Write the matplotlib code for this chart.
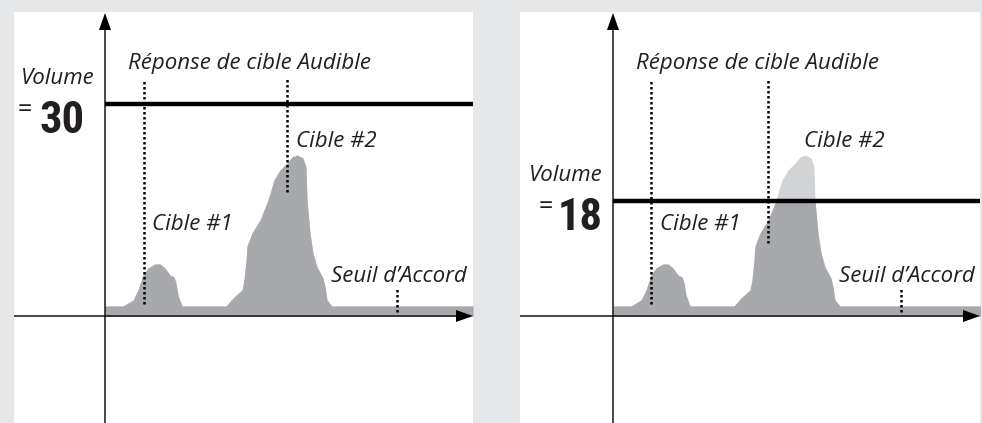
import matplotlib
matplotlib.use("Agg")
import matplotlib.pyplot as plt
import numpy as np

# signal profile (x from the vertical axis, y above the horizontal axis)
signal_x = [0, 18, 28, 33, 38, 43, 50, 55, 60, 65, 69, 71, 73, 77,
            121, 128, 137, 139, 141, 142, 147, 155, 163, 169, 175, 182,
            187, 192, 198, 201, 202, 205, 208, 212, 218, 220, 222, 227, 368]
signal_y = [10, 10, 16, 26, 41, 48, 52, 52, 48, 41, 39, 33, 21, 10,
            10, 18, 26, 36, 56, 70, 83, 96, 116, 136, 146, 153,
            159, 161, 158, 149, 116, 83, 63, 49, 38, 29, 16, 10, 10]

volume_levels = [212, 115]
volume_labels = ["30", "18"]

# dotted response markers per panel: x, top, bottom
marker_x = [[39, 182, 292], [38, 155, 288]]
marker_top = [[237, 237, 28], [237, 237, 28]]
marker_bottom = [[12, 124, 4], [12, 73, 4]]

title_text = "Réponse de cible Audible"
target1_text = "Cible #1"
target2_text = "Cible #2"
threshold_text = "Seuil d\u2019Accord"
volume_text = "Volume"

BG = "#e6e7e8"
DARK = "#a7a9ac"
LIGHT = "#d1d3d4"
INK = "#231f20"
FONT = ["Open Sans", "DejaVu Sans"]
DIGIT_FONT = ["DejaVu Sans Condensed", "Roboto Condensed",
              "Liberation Sans Narrow", "Roboto", "DejaVu Sans"]

W, H = 982, 423
fig = plt.figure(figsize=(W / 100, H / 100), dpi=100, facecolor=BG)

# panel geometry in pixels: white left, white right, y-axis x
panels = [(14, 473, 105), (520, 980, 613)]
axis_row = 316  # pixel row of horizontal axis
top_row = 12
eq_pos = [-80, -67]
digit_pos = [-20, -10]

for i, (left, right, origin) in enumerate(panels):
    ax = fig.add_axes([left / W, 0, (right - left) / W, (H - top_row) / H])
    xmin, xmax = left - origin, right - origin
    ymin, ymax = axis_row - H, axis_row - top_row
    ax.set_xlim(xmin, xmax)
    ax.set_ylim(ymin, ymax)
    ax.set_facecolor("white")
    for s in ax.spines.values():
        s.set_visible(False)
    ax.set_xticks([])
    ax.set_yticks([])

    level = volume_levels[i]
    sx = np.array(signal_x)
    sy = np.array(signal_y)
    ax.fill_between(sx, 0, sy, color=LIGHT, lw=0, zorder=1)
    ax.fill_between(sx, 0, np.minimum(sy, level), color=DARK, lw=0, zorder=2)

    # axes with arrows
    ax.arrow(xmin, 0, xmax - xmin, 0, width=1.4, head_width=12, head_length=17,
             length_includes_head=True, fc="black", ec="none", zorder=5)
    ax.arrow(0, ymin, 0, ymax - 1 - ymin, width=1.4, head_width=12, head_length=17,
             length_includes_head=True, fc="black", ec="none", zorder=5)

    # volume level
    ax.hlines(level, 0, xmax, color="black", lw=3.2, zorder=4)

    # dotted markers
    for mx, mt, mb in zip(marker_x[i], marker_top[i], marker_bottom[i]):
        ax.plot([mx, mx], [mb, mt], color="black", lw=1.8,
                linestyle=(0, (1, 1)), zorder=6)

    kw = dict(family=FONT, style="italic", fontsize=16, color=INK)
    ax.text(145, 247, title_text, ha="center", va="baseline", **kw)
    ax.text(47, 86, target1_text, ha="left", va="baseline", **kw)
    ax.text(191, 169, target2_text, ha="left", va="baseline", **kw)
    ax.text(226, 34, threshold_text, ha="left", va="baseline", **kw)
    ax.text(-10, level + 20, volume_text, ha="right", va="baseline", **kw)

    # "= NN" readout
    ax.text(eq_pos[i], level - 13, "=", ha="center", va="baseline",
            family=FONT, fontsize=18, color=INK)
    ax.text(digit_pos[i], level - 29, volume_labels[i], ha="right",
            va="baseline", family=DIGIT_FONT, weight="bold",
            fontsize=32, color=INK)

fig.savefig("out.png", dpi=100, facecolor=BG)
